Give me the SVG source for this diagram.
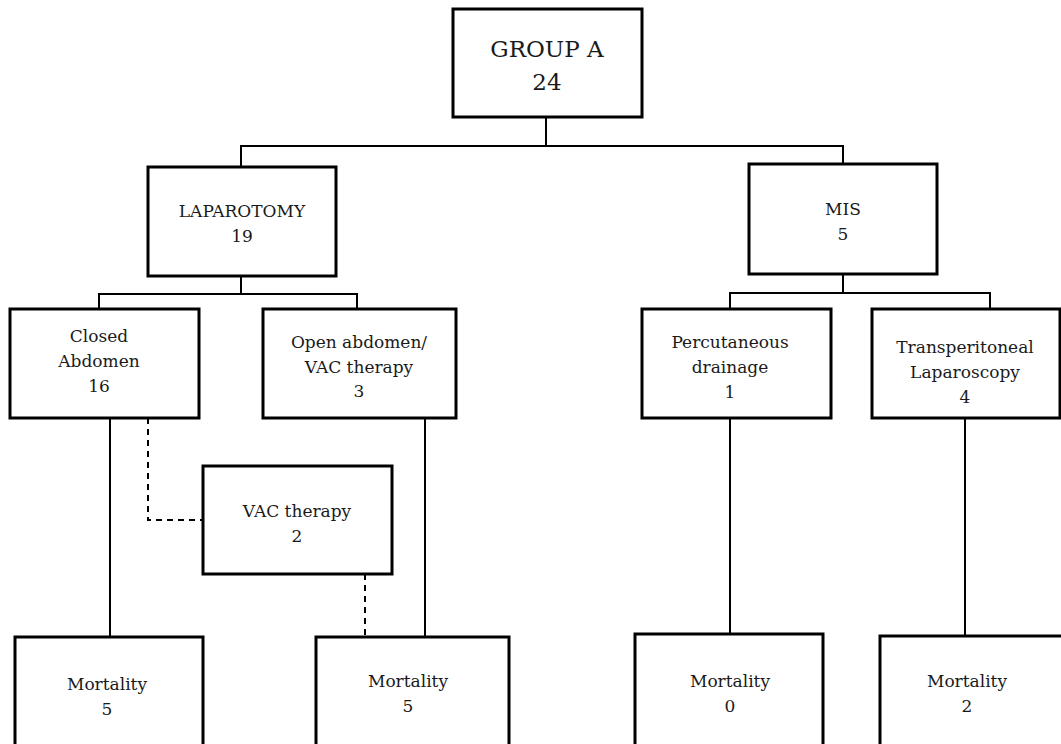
<svg xmlns="http://www.w3.org/2000/svg" width="1061" height="744" viewBox="0 0 1061 744">
<style>
.box{fill:#fff;stroke:#000;stroke-width:3}
.ln{fill:none;stroke:#000;stroke-width:2}
.dash{fill:none;stroke:#000;stroke-width:2;stroke-dasharray:6,5}
text{font-family:"DejaVu Serif","Liberation Serif",serif;font-size:17px;fill:#1a1a1a;text-anchor:middle}
.big{font-size:23px}
</style>
<rect width="1061" height="744" fill="#fff"/>
<g id="connectors">
<polyline class="ln" points="546,117 546,146"/>
<polyline class="ln" points="241,167 241,146 843,146 843,164"/>
<polyline class="ln" points="241,276 241,294"/>
<polyline class="ln" points="99,309 99,294 357,294 357,309"/>
<polyline class="ln" points="843,274 843,293"/>
<polyline class="ln" points="730,309 730,293 990,293 990,309"/>
<line class="ln" x1="110" y1="418" x2="110" y2="637"/>
<line class="ln" x1="425" y1="418" x2="425" y2="637"/>
<line class="ln" x1="730" y1="418" x2="730" y2="634"/>
<line class="ln" x1="965" y1="418" x2="965" y2="636"/>
<polyline class="dash" points="148,418 148,520 203,520"/>
<polyline class="dash" points="365,574 365,637"/>
</g>
<g id="groupA"><rect class="box" x="453" y="9" width="189" height="108"/><text class="big" x="547" y="57">GROUP A</text><text class="big" x="547" y="90">24</text></g>
<g id="laparotomy"><rect class="box" x="148" y="167" width="188" height="109"/><text x="242" y="217">LAPAROTOMY</text><text x="242" y="242">19</text></g>
<g id="mis"><rect class="box" x="749" y="164" width="188" height="110"/><text x="843" y="215">MIS</text><text x="843" y="240">5</text></g>
<g id="closed"><rect class="box" x="10" y="309" width="189" height="109"/><text x="99" y="342">Closed</text><text x="99" y="367">Abdomen</text><text x="99" y="392">16</text></g>
<g id="open"><rect class="box" x="263" y="309" width="193" height="109"/><text x="359" y="348">Open abdomen/</text><text x="359" y="373">VAC therapy</text><text x="359" y="397">3</text></g>
<g id="percutaneous"><rect class="box" x="642" y="309" width="189" height="109"/><text x="730" y="348">Percutaneous</text><text x="730" y="373">drainage</text><text x="730" y="398">1</text></g>
<g id="transperitoneal"><rect class="box" x="872" y="309" width="188" height="109"/><text x="965" y="353">Transperitoneal</text><text x="965" y="378">Laparoscopy</text><text x="965" y="403">4</text></g>
<g id="vac"><rect class="box" x="203" y="466" width="189" height="108"/><text x="297" y="517">VAC therapy</text><text x="297" y="542">2</text></g>
<g id="mort1"><rect class="box" x="15" y="637" width="188" height="130"/><text x="107" y="690">Mortality</text><text x="107" y="715">5</text></g>
<g id="mort2"><rect class="box" x="316" y="637" width="193" height="130"/><text x="408" y="687">Mortality</text><text x="408" y="712">5</text></g>
<g id="mort3"><rect class="box" x="635" y="634" width="188" height="130"/><text x="730" y="687">Mortality</text><text x="730" y="712">0</text></g>
<g id="mort4"><rect class="box" x="880" y="636" width="190" height="130"/><text x="967" y="687">Mortality</text><text x="967" y="712">2</text></g>
</svg>
